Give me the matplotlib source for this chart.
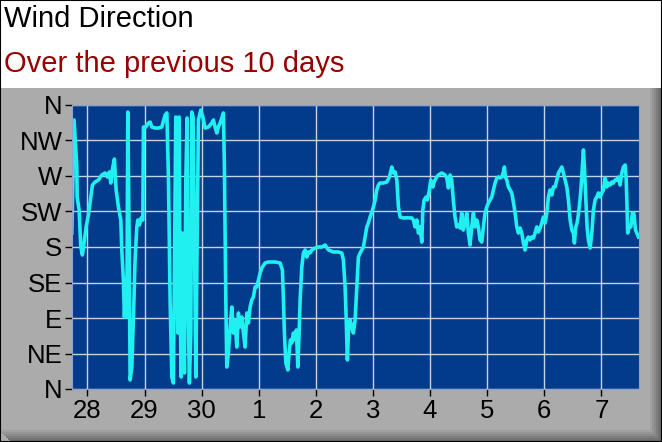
import matplotlib
matplotlib.use("Agg")
import matplotlib.pyplot as plt
from matplotlib.patches import Rectangle

# Time in days since the 28th 00:00, direction in degrees
days = [
    -0.273, -0.233, -0.186, -0.180, -0.145, -0.116, -0.088, -0.058, -0.023, 0.018,
    0.060, 0.088, 0.135, 0.193, 0.252, 0.310, 0.350, 0.385, 0.410, 0.445,
    0.473, 0.503, 0.543, 0.585, 0.602, 0.630, 0.648, 0.673, 0.690, 0.708,
    0.730, 0.748, 0.778, 0.806, 0.835, 0.865, 0.883, 0.911, 0.940, 0.970,
    0.981, 1.023, 1.068, 1.098, 1.128, 1.186, 1.243, 1.303, 1.361, 1.391,
    1.419, 1.448, 1.478, 1.506, 1.524, 1.548, 1.566, 1.583, 1.606, 1.623,
    1.641, 1.664, 1.681, 1.699, 1.723, 1.746, 1.764, 1.786, 1.811, 1.828,
    1.851, 1.874, 1.898, 1.921, 1.944, 1.986, 2.021, 2.061, 2.119, 2.179,
    2.207, 2.236, 2.266, 2.294, 2.324, 2.354, 2.382, 2.399, 2.424, 2.441,
    2.469, 2.499, 2.529, 2.557, 2.587, 2.616, 2.644, 2.674, 2.704, 2.732,
    2.762, 2.792, 2.820, 2.849, 2.879, 2.907, 2.937, 2.967, 2.995, 3.025,
    3.054, 3.112, 3.170, 3.287, 3.375, 3.415, 3.433, 3.450, 3.475, 3.510,
    3.532, 3.555, 3.580, 3.608, 3.637, 3.660, 3.685, 3.708, 3.725, 3.755,
    3.783, 3.813, 3.842, 3.870, 3.900, 3.930, 3.988, 4.046, 4.105, 4.163,
    4.221, 4.308, 4.396, 4.455, 4.483, 4.513, 4.531, 4.553, 4.571, 4.601,
    4.630, 4.658, 4.688, 4.718, 4.746, 4.776, 4.805, 4.834, 4.863, 4.893,
    4.921, 4.951, 4.980, 5.009, 5.039, 5.068, 5.096, 5.126, 5.184, 5.243,
    5.289, 5.331, 5.359, 5.389, 5.419, 5.447, 5.476, 5.534, 5.594, 5.681,
    5.709, 5.739, 5.769, 5.797, 5.827, 5.856, 5.874, 5.897, 5.932, 5.954,
    5.989, 6.014, 6.049, 6.072, 6.107, 6.147, 6.207, 6.264, 6.294, 6.322,
    6.352, 6.380, 6.408, 6.438, 6.468, 6.496, 6.527, 6.555, 6.583, 6.613,
    6.643, 6.672, 6.701, 6.730, 6.760, 6.790, 6.818, 6.847, 6.877, 6.906,
    6.935, 6.964, 6.994, 7.023, 7.053, 7.082, 7.110, 7.140, 7.170, 7.198,
    7.228, 7.257, 7.285, 7.303, 7.320, 7.345, 7.373, 7.402, 7.432, 7.460,
    7.490, 7.520, 7.548, 7.578, 7.607, 7.636, 7.665, 7.695, 7.723, 7.753,
    7.783, 7.811, 7.841, 7.870, 7.898, 7.928, 7.958, 7.986, 8.016, 8.046,
    8.074, 8.103, 8.133, 8.161, 8.191, 8.221, 8.249, 8.279, 8.308, 8.336,
    8.366, 8.396, 8.424, 8.454, 8.484, 8.511, 8.529, 8.553, 8.576, 8.602,
    8.627, 8.646, 8.669, 8.687, 8.704, 8.729, 8.751, 8.774, 8.804, 8.834,
    8.862, 8.891, 8.921, 8.949, 8.979, 9.009, 9.037, 9.067, 9.096, 9.124,
    9.154, 9.184, 9.212, 9.242, 9.271, 9.299, 9.329, 9.359, 9.387, 9.417,
    9.434, 9.447, 9.462, 9.487, 9.517, 9.545, 9.569, 9.599, 9.622, 9.650,
]
direction = [
    197.7, 341.0, 281.8, 243.4, 226.9, 180.4, 169.9, 185.1, 205.4, 220.6,
    243.4, 258.6, 262.4, 264.9, 271.3, 273.8, 268.7, 275.1, 261.1, 281.4,
    291.5, 252.3, 230.7, 214.2, 176.2, 138.2, 91.3, 138.2, 91.3, 351.1,
    197.7, 11.4, 27.9, 91.3, 163.5, 205.4, 214.2, 207.9, 216.8, 214.2,
    332.1, 332.1, 337.2, 338.4, 332.1, 330.8, 330.8, 332.1, 347.3, 349.9,
    268.7, 112.8, 15.2, 7.6, 154.6, 344.8, 239.6, 71.0, 344.8, 112.8,
    15.2, 197.7, 103.9, 20.3, 264.9, 343.5, 112.8, 7.6, 71.0, 351.1,
    344.8, 197.7, 15.2, 176.2, 341.0, 353.7, 344.8, 330.8, 332.1, 337.2,
    341.0, 332.1, 324.5, 332.1, 337.2, 343.5, 349.9, 281.4, 112.8, 27.9,
    45.6, 78.6, 103.9, 71.0, 87.5, 53.2, 96.3, 78.6, 91.3, 71.0,
    53.2, 96.3, 83.7, 103.9, 112.8, 116.6, 129.3, 129.3, 138.2, 147.0,
    153.4, 159.7, 161.0, 161.0, 159.7, 150.8, 112.8, 71.0, 33.0, 24.1,
    45.6, 62.1, 58.3, 71.0, 62.1, 74.8, 27.9, 71.0, 112.8, 154.6,
    172.4, 176.2, 167.3, 173.7, 172.4, 176.2, 178.7, 180.0, 180.0, 182.5,
    176.2, 173.7, 173.7, 172.4, 163.5, 129.3, 91.3, 36.8, 71.0, 87.5,
    78.6, 71.0, 87.5, 129.3, 167.3, 172.4, 176.2, 180.0, 192.7, 205.4,
    210.4, 218.0, 224.4, 230.7, 239.6, 252.3, 258.6, 261.1, 261.1, 262.4,
    268.7, 281.4, 273.8, 275.1, 264.9, 230.7, 218.0, 216.8, 217.0, 216.8,
    214.2, 205.4, 214.2, 197.7, 205.4, 186.3, 226.9, 239.6, 243.4, 239.6,
    252.3, 264.9, 256.1, 262.4, 267.5, 271.3, 273.8, 271.3, 267.5, 254.8,
    271.3, 264.9, 239.6, 218.0, 205.4, 207.9, 204.1, 223.1, 201.5, 210.4,
    223.1, 197.7, 182.5, 205.4, 223.1, 205.4, 214.2, 205.4, 188.9, 186.3,
    205.4, 223.1, 230.7, 235.8, 239.6, 243.4, 252.3, 261.1, 267.5, 268.7,
    267.5, 268.7, 275.1, 281.4, 268.7, 264.9, 256.1, 252.3, 248.5, 237.0,
    223.1, 205.4, 197.7, 204.1, 197.7, 185.1, 176.2, 188.9, 192.7, 188.9,
    192.7, 191.4, 197.7, 205.4, 199.0, 204.1, 210.4, 218.0, 210.4, 223.1,
    243.4, 252.3, 245.9, 256.1, 256.1, 264.9, 273.8, 277.6, 281.4, 273.8,
    264.9, 256.1, 239.6, 214.2, 201.5, 197.7, 185.1, 205.4, 210.4, 223.1,
    239.6, 256.1, 281.4, 303.0, 281.4, 239.6, 205.4, 188.9, 178.7, 197.7,
    226.9, 239.6, 243.4, 248.5, 243.4, 248.5, 252.3, 267.5, 256.1, 261.1,
    258.6, 262.4, 261.1, 264.9, 264.9, 268.7, 258.6, 273.8, 281.4, 283.9,
    268.7, 239.6, 197.7, 205.4, 205.4, 223.1, 223.1, 201.5, 197.7, 192.7,
]

y_ticks = [0, 45, 90, 135, 180, 225, 270, 315, 360]
y_labels = ["N", "NE", "E", "SE", "S", "SW", "W", "NW", "N"]
x_ticks = [0, 1, 2, 3, 4, 5, 6, 7, 8, 9]
x_labels = ["28", "29", "30", "1", "2", "3", "4", "5", "6", "7"]

plt.rcParams["font.family"] = ["Liberation Sans", "DejaVu Sans"]

W, H = 662, 442
fig = plt.figure(figsize=(W / 100, H / 100), dpi=100)
fig.patch.set_facecolor("white")

# grey panel with a dark bevel on the right and bottom
panel_top = 1 - 88 / H
fig.patches.append(Rectangle((0, 0), 1, panel_top, transform=fig.transFigure,
                             facecolor="#ababab", edgecolor="none", zorder=-3))
shades = ["#a0a0a0", "#959595", "#8a8a8a", "#7e7e7e", "#727272", "#686868"]
for i, c in enumerate(shades):
    x0 = (650 + i * 2) / W
    fig.patches.append(Rectangle((x0, 0), 2 / W, panel_top, transform=fig.transFigure,
                                 facecolor=c, edgecolor="none", zorder=-2))
    y0 = (12 - (i + 1) * 2) / H
    fig.patches.append(Rectangle(((i * 2) / W, y0), 1 - (i * 2) / W, 2 / H,
                                 transform=fig.transFigure,
                                 facecolor=c, edgecolor="none", zorder=-2))
fig.patches.append(Rectangle((0, 0), 1, 1, transform=fig.transFigure,
                             facecolor="none", edgecolor="black", lw=1.5, zorder=5))

fig.text(4 / W, 1 - 19 / H, "Wind Direction", fontsize=21, color="black",
         va="center", ha="left")
fig.text(4 / W, 1 - 64 / H, "Over the previous 10 days", fontsize=21, color="#990000",
         va="center", ha="left")

ax = fig.add_axes([72 / W, 53 / H, 567 / W, 284 / H])
ax.set_facecolor("#033b8c")
ax.plot(days, direction, color="#20f0f0", lw=2.6, solid_joinstyle="round")

ax.set_xlim(-0.27, 9.66)
ax.set_ylim(0, 360)
ax.set_yticks(y_ticks)
ax.set_yticklabels(y_labels)
ax.set_xticks(x_ticks)
ax.set_xticklabels(x_labels)
ax.grid(True, color="#c8d0e4", lw=1)
ax.set_axisbelow(True)
ax.tick_params(axis="both", length=5, width=1, color="black", labelsize=18.5,
               labelcolor="black", pad=2)
for s in ax.spines.values():
    s.set_color("#8fa4cc")
    s.set_linewidth(0.8)

fig.savefig("out.png", dpi=100, facecolor=fig.get_facecolor())
